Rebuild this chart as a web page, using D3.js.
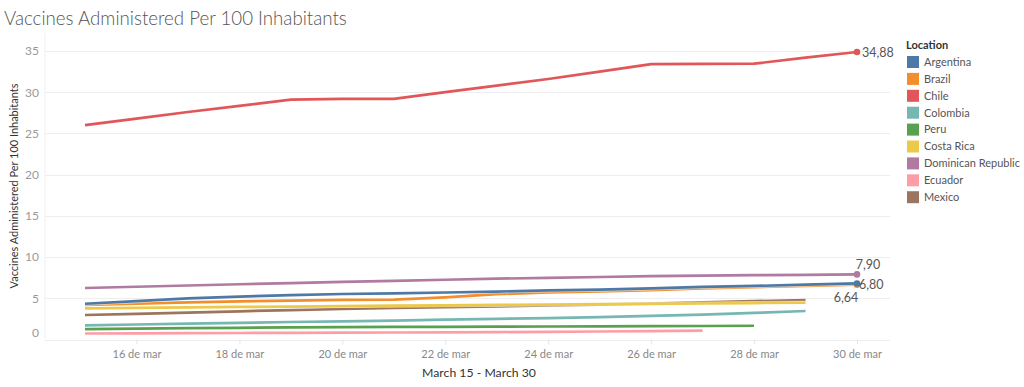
<!DOCTYPE html>
<html><head><meta charset="utf-8">
<script src="https://cdnjs.cloudflare.com/ajax/libs/d3/7.8.5/d3.min.js"></script>
<style>
html,body{margin:0;padding:0;background:#fff;}
svg{display:block;font-family:Lato,"Open Sans",sans-serif;}
</style></head>
<body>
<svg id="chart" width="1024" height="387"></svg>
<script>
// ---- data ----
const days = ["2021-03-15","2021-03-16","2021-03-17","2021-03-18","2021-03-19","2021-03-20","2021-03-21","2021-03-22","2021-03-23","2021-03-24","2021-03-25","2021-03-26","2021-03-27","2021-03-28","2021-03-29","2021-03-30"];
const locations = ["Argentina","Brazil","Chile","Colombia","Peru","Costa Rica","Dominican Republic","Ecuador","Mexico"];
const colors = ["#4e79a7","#f28e2b","#e15759","#76b7b2","#59a14f","#edc948","#b07aa1","#ff9da7","#9c755f"];
const argentina = [4.34,4.65,5.0,5.2,5.38,5.52,5.6,5.7,5.82,5.95,6.05,6.2,6.38,6.5,6.65,6.8];
const brazil    = [4.2,4.35,4.5,4.62,4.72,4.8,4.83,5.1,5.5,5.7,5.85,6.0,6.2,6.35,6.5,6.64];
const chile     = [26.0,26.8,27.6,28.35,29.1,29.2,29.2,30.0,30.8,31.6,32.5,33.4,33.43,33.46,34.2,34.88];
const colombia  = [1.72,1.82,1.92,2.02,2.12,2.2,2.3,2.4,2.5,2.6,2.72,2.86,3.02,3.22,3.46];
const peru      = [1.27,1.32,1.37,1.42,1.46,1.49,1.52,1.54,1.56,1.58,1.6,1.62,1.64,1.67];
const costaRica = [3.78,3.84,3.9,3.95,4.0,4.05,4.1,4.15,4.2,4.24,4.28,4.32,4.37,4.42,4.46];
const dominicanRepublic = [6.25,6.4,6.55,6.7,6.85,7.0,7.12,7.25,7.38,7.48,7.58,7.68,7.75,7.8,7.85,7.9];
const ecuador   = [0.73,0.75,0.77,0.79,0.81,0.83,0.85,0.87,0.9,0.93,0.97,1.02,1.07];
const mexico    = [2.97,3.12,3.27,3.42,3.57,3.7,3.82,3.93,4.03,4.13,4.24,4.36,4.5,4.65,4.79];
const seriesValues = [argentina,brazil,chile,colombia,peru,costaRica,dominicanRepublic,ecuador,mexico];
const yTicks = [0,5,10,15,20,25,30,35];
const xTicks = ["2021-03-16","2021-03-18","2021-03-20","2021-03-22","2021-03-24","2021-03-26","2021-03-28","2021-03-30"];
const labelled = [
  {loc:"Chile", text:"34,88"},
  {loc:"Dominican Republic", text:"7,90"},
  {loc:"Brazil", text:"6,64"},
  {loc:"Argentina", text:"6,80"}
];
const titleText = "Vaccines Administered Per 100 Inhabitants";
const yTitle = "Vaccines Administered Per 100 Inhabitants";
const xTitle = "March 15 - March 30";
const legendTitle = "Location";

// ---- setup ----
const parse = d3.timeParse("%Y-%m-%d");
const svg = d3.select("#chart");
const plotL = 45, plotR = 890, plotT = 33, plotB = 339.5;
const x = d3.scaleTime().domain([parse(days[0]), parse(days[days.length-1])]).range([85, 857]);
const y = d3.scaleLinear().domain([0,35]).range([339.5, 51]);

function fitText(sel, target){
  const n = sel.node();
  const w = n.getComputedTextLength();
  const fs = parseFloat(sel.attr("font-size"));
  if (w > 0) sel.attr("font-size", (fs*target/w).toFixed(2));
}

// title
const t = svg.append("text").attr("x",4).attr("y",25).attr("font-size",18).attr("font-weight",300)
  .attr("fill","#555").text(titleText);
fitText(t, 343);

// plot frame line (left)
svg.append("line").attr("x1",plotL).attr("x2",plotL).attr("y1",plotT).attr("y2",plotB)
  .attr("stroke","#f0f0f0").attr("stroke-width",1);

// gridlines
svg.append("g").selectAll("line").data(yTicks).join("line")
  .attr("x1",plotL).attr("x2",plotR)
  .attr("y1",d=>Math.round(y(d))+0.5).attr("y2",d=>Math.round(y(d))+0.5)
  .attr("stroke","#eeeeee").attr("stroke-width",1);

// y axis
const yAxis = svg.append("g").attr("transform","translate(39,0)")
  .call(d3.axisLeft(y).tickValues(yTicks).tickSize(0).tickPadding(0));
yAxis.select(".domain").remove();
yAxis.selectAll("text").attr("font-size",12).attr("fill","#999").attr("font-family","Lato,sans-serif")
  .attr("dy", d => d===0 ? "-0.25em" : "0.32em");

// x axis
const xAxis = svg.append("g").attr("transform",`translate(0,${plotB})`)
  .call(d3.axisBottom(x).tickValues(xTicks.map(parse)).tickSize(5).tickPadding(6)
    .tickFormat(d => d3.timeFormat("%-d")(d) + " de mar"));
xAxis.select(".domain").remove();
xAxis.selectAll("line").attr("stroke","#e6e6e6");
xAxis.selectAll("text").attr("font-size",11).attr("fill","#888").attr("font-family","Lato,sans-serif");

// axis titles
const yt = svg.append("text").attr("transform","translate(18,186) rotate(-90)")
  .attr("text-anchor","middle").attr("font-size",12).attr("fill","#333").text(yTitle);
fitText(yt, 205);
const xt = svg.append("text").attr("x",479).attr("y",377).attr("text-anchor","middle")
  .attr("font-size",12).attr("fill","#333").text(xTitle);
fitText(xt, 114);

// lines
const line = d3.line().x(d=>x(d.date)).y(d=>y(d.v));
const series = locations.map((loc,i)=>({
  loc, color: colors[i],
  pts: seriesValues[i].map((v,j)=>({date: parse(days[j]), v}))
}));
const drawOrder = ["Ecuador","Peru","Colombia","Mexico","Costa Rica","Brazil","Argentina","Dominican Republic","Chile"];
const g = svg.append("g");
drawOrder.forEach(name=>{
  const s = series.find(d=>d.loc===name);
  g.append("path").datum(s.pts).attr("d",line).attr("fill","none")
    .attr("stroke","#fff").attr("stroke-width",4).attr("stroke-opacity",0.6);
  g.append("path").datum(s.pts).attr("d",line).attr("fill","none")
    .attr("stroke",s.color).attr("stroke-width",2.7).attr("stroke-linejoin","round");
});

// end markers and labels
const labelPos = {
  "Chile": {dx:5, dy:1, anchor:"start"},
  "Dominican Republic": {dx:11, dy:-10, anchor:"middle"},
  "Argentina": {dx:2, dy:1, anchor:"start"},
  "Brazil": {dx:-11, dy:13, anchor:"middle"}
};
labelled.forEach(l=>{
  const s = series.find(d=>d.loc===l.loc);
  const p = s.pts[s.pts.length-1];
  g.append("circle").attr("cx",x(p.date)).attr("cy",y(p.v)).attr("r",3.3).attr("fill",s.color);
});
labelled.forEach(l=>{
  const s = series.find(d=>d.loc===l.loc);
  const p = s.pts[s.pts.length-1];
  const lp = labelPos[l.loc];
  svg.append("text").attr("x",x(p.date)+lp.dx).attr("y",y(p.v)+lp.dy).attr("dy","0.35em")
    .attr("text-anchor",lp.anchor).attr("font-size",12.5).attr("fill","#555").text(l.text);
});

// legend
const lg = svg.append("g");
lg.append("text").attr("x",906).attr("y",49).attr("font-size",11).attr("font-weight",700)
  .attr("fill","#333").text(legendTitle);
const items = lg.selectAll("g.item").data(locations).join("g").attr("class","item")
  .attr("transform",(d,i)=>`translate(907,${56 + i*16.9})`);
items.append("rect").attr("width",12).attr("height",12).attr("fill",(d,i)=>colors[i]);
items.append("text").attr("x",17).attr("y",6).attr("dy","0.35em").attr("font-size",11)
  .attr("fill","#555").text(d=>d);
</script>
</body></html>
